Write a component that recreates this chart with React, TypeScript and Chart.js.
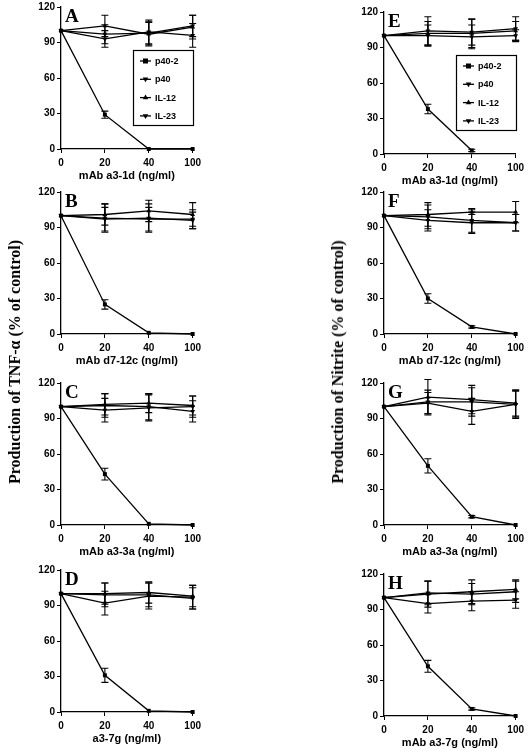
import React, { useEffect, useRef } from "react";
import { Chart, registerables } from "chart.js";
Chart.register(...registerables);

// ---------- DATA ----------
const doses = ["0", "20", "40", "100"];
const seriesNames = ["p40-2", "p40", "IL-12", "IL-23"];
const yTicks = [0, 30, 60, 90, 120];

// order of series rows: p40-2, p40, IL-12, IL-23
const panelAValues = [[100, 29, 0, 0], [100, 97, 98, 104], [100, 104, 97, 103], [100, 93, 99, 96]];
const panelAErrors = [[0, 3, 0, 0], [0, 8, 10, 9], [0, 9, 10, 10], [0, 7, 10, 10]];
const panelBValues = [[100, 25, 1, 0], [100, 97, 98, 96], [100, 101, 104, 101], [100, 98, 97, 97]];
const panelBErrors = [[0, 4, 0, 0], [0, 10, 12, 7], [0, 9, 9, 10], [0, 12, 10, 8]];
const panelCValues = [[100, 43, 1, 0], [100, 101, 100, 96], [100, 102, 103, 101], [100, 97, 99, 100]];
const panelCErrors = [[0, 5, 0, 0], [0, 10, 11, 9], [0, 9, 8, 8], [0, 10, 11, 9]];
const panelDValues = [[100, 31, 1, 0], [100, 92, 98, 97], [100, 100, 101, 98], [100, 99, 99, 96]];
const panelDErrors = [[0, 6, 0, 0], [0, 10, 11, 10], [0, 9, 9, 9], [0, 10, 10, 9]];
const panelEValues = [[100, 38, 3, null], [100, 104, 103, 106], [100, 102, 102, 104], [100, 100, 99, 100]];
const panelEErrors = [[0, 4, 1, 0], [0, 12, 11, 10], [0, 10, 12, 8], [0, 9, 10, 5]];
const panelFValues = [[100, 30, 6, 0], [100, 96, 94, 94], [100, 101, 103, 103], [100, 99, 96, 94]];
const panelFErrors = [[0, 4, 1, 0], [0, 9, 9, 7], [0, 10, 2, 9], [0, 10, 10, 7]];
const panelGValues = [[100, 50, 7, 0], [100, 104, 104, 102], [100, 108, 106, 103], [100, 103, 96, 102]];
const panelGErrors = [[0, 6, 1, 0], [0, 10, 12, 12], [0, 15, 12, 11], [0, 9, 11, 11]];
const panelHValues = [[100, 42, 6, 0], [100, 95, 97, 98], [100, 103, 105, 107], [100, 104, 103, 105]];
const panelHErrors = [[0, 5, 1, 0], [0, 8, 8, 7], [0, 11, 10, 8], [0, 10, 9, 9]];

const panelLetters = ["A", "B", "C", "D", "E", "F", "G", "H"];
const xTitles = [
  "mAb a3-1d (ng/ml)", "mAb d7-12c (ng/ml)", "mAb a3-3a (ng/ml)", "a3-7g (ng/ml)",
  "mAb a3-1d (ng/ml)", "mAb d7-12c (ng/ml)", "mAb a3-3a (ng/ml)", "mAb a3-7g (ng/ml)",
];
const yTitleLeft = "Production of TNF-α (% of control)";
const yTitleRight = "Production of Nitrite (% of control)";

// ---------- LAYOUT / STYLE ----------
const panelValues = [panelAValues, panelBValues, panelCValues, panelDValues, panelEValues, panelFValues, panelGValues, panelHValues];
const panelErrors = [panelAErrors, panelBErrors, panelCErrors, panelDErrors, panelEErrors, panelFErrors, panelGErrors, panelHErrors];
const plotPos = [
  [61, 7], [61, 192], [61, 383], [61, 570],
  [384, 12], [384, 192], [384, 383], [384, 574],
];
const PLOT_W = 134;
const PLOT_H = 142;
const PAD_L = 40;
const PAD_T = 12;
const PAD_R = 10;
const PAD_B = 38;
const CW = PAD_L + PLOT_W + PAD_R;
const CH = PAD_T + PLOT_H + PAD_B;

const pointStyles = ["rect", "triangle", "triangle", "triangle"];
const pointRotations = [0, 180, 0, 180];
const SANS = "'Liberation Sans', Arial, sans-serif";
const SERIF = "'Liberation Serif', 'Times New Roman', serif";

function drawMarker(ctx: CanvasRenderingContext2D, style: string, rot: number, x: number, y: number, r: number) {
  ctx.beginPath();
  if (style === "rect") {
    ctx.rect(x - r, y - r, 2 * r, 2 * r);
  } else {
    const s = rot === 180 ? -1 : 1;
    ctx.moveTo(x, y - s * r * 1.2);
    ctx.lineTo(x - r * 1.1, y + s * r * 0.7);
    ctx.lineTo(x + r * 1.1, y + s * r * 0.7);
    ctx.closePath();
  }
  ctx.fill();
}

const errorBarPlugin = {
  id: "errorBars",
  afterDatasetsDraw(chart: any) {
    const ctx = chart.ctx;
    const ys = chart.scales.y;
    chart.data.datasets.forEach((ds: any, i: number) => {
      const meta = chart.getDatasetMeta(i);
      const errs = ds.errors as number[];
      if (!errs) return;
      meta.data.forEach((pt: any, j: number) => {
        const v = ds.data[j];
        const e = errs[j];
        if (v == null || !e) return;
        const yTop = ys.getPixelForValue(v + e);
        const yBot = ys.getPixelForValue(v - e);
        ctx.save();
        ctx.strokeStyle = "#000";
        ctx.lineWidth = 1.1;
        ctx.beginPath();
        ctx.moveTo(pt.x, yTop);
        ctx.lineTo(pt.x, yBot);
        ctx.moveTo(pt.x - 3.5, yTop);
        ctx.lineTo(pt.x + 3.5, yTop);
        ctx.moveTo(pt.x - 3.5, yBot);
        ctx.lineTo(pt.x + 3.5, yBot);
        ctx.stroke();
        ctx.restore();
      });
    });
  },
};

const decorPlugin = {
  id: "panelDecor",
  afterDraw(chart: any, _args: any, opts: any) {
    const ctx = chart.ctx;
    const ca = chart.chartArea;
    ctx.save();
    ctx.fillStyle = "#000";
    ctx.font = `bold 19px ${SERIF}`;
    ctx.textBaseline = "alphabetic";
    ctx.textAlign = "left";
    ctx.fillText(opts.letter, ca.left + 4, ca.top + 15);
    if (opts.legend) {
      const bx = ca.left + 72;
      const by = ca.top + 43;
      const bw = 60;
      const bh = 75;
      ctx.strokeStyle = "#000";
      ctx.lineWidth = 1.2;
      ctx.strokeRect(bx + 0.5, by + 0.5, bw, bh);
      ctx.font = `bold 9px ${SANS}`;
      ctx.textBaseline = "middle";
      seriesNames.forEach((name, i) => {
        const y = by + 11 + i * 18.3;
        ctx.lineWidth = 1.3;
        ctx.beginPath();
        ctx.moveTo(bx + 7, y);
        ctx.lineTo(bx + 18, y);
        ctx.stroke();
        drawMarker(ctx, pointStyles[i], pointRotations[i], bx + 12.5, y, 2.5);
        ctx.fillText(name, bx + 22, y + 0.5);
      });
    }
    ctx.restore();
  },
};

function Panel({ idx }: { idx: number }) {
  const ref = useRef<HTMLCanvasElement | null>(null);
  useEffect(() => {
    if (!ref.current) return;
    const vals = panelValues[idx];
    const errs = panelErrors[idx];
    const datasets = seriesNames
      .map((name, i) => ({
        label: name,
        data: vals[i],
        errors: errs[i],
        borderColor: "#000",
        backgroundColor: "#000",
        borderWidth: 1.3,
        pointStyle: pointStyles[i],
        rotation: pointRotations[i],
        pointRotation: pointRotations[i],
        pointRadius: 2.8,
        pointBorderWidth: 0,
        tension: 0,
        clip: false,
        spanGaps: false,
      }))
      .reverse();
    const chart = new Chart(ref.current, {
      type: "line",
      data: { labels: doses, datasets: datasets as any },
      plugins: [errorBarPlugin, decorPlugin],
      options: {
        animation: false,
        responsive: false,
        devicePixelRatio: 1,
        layout: { padding: { left: 0, top: PAD_T, right: PAD_R, bottom: 0 } },
        plugins: {
          legend: { display: false },
          tooltip: { enabled: false },
          panelDecor: { letter: panelLetters[idx], legend: idx === 0 || idx === 4 },
        } as any,
        scales: {
          x: {
            type: "category",
            offset: false,
            grid: { display: true, drawOnChartArea: false, drawTicks: true, tickLength: 4, tickColor: "#000", tickWidth: 1, offset: false },
            border: { display: true, color: "#000", width: 1.3 },
            ticks: { color: "#000", font: { family: SANS, size: 10, weight: "bold" }, padding: 4, maxRotation: 0, autoSkip: false },
            title: { display: true, text: xTitles[idx], color: "#000", font: { family: SANS, size: 11, weight: "bold" }, padding: { top: 0, bottom: 4 } },
            afterFit: (s: any) => { s.height = PAD_B; },
          },
          y: {
            min: 0,
            max: 120,
            afterBuildTicks: (s: any) => { s.ticks = yTicks.map((v) => ({ value: v })); },
            grid: { display: true, drawOnChartArea: false, drawTicks: true, tickLength: 4, tickColor: "#000", tickWidth: 1 },
            border: { display: true, color: "#000", width: 1.3 },
            ticks: { color: "#000", font: { family: SANS, size: 10, weight: "bold" }, padding: 2 },
            afterFit: (s: any) => { s.width = PAD_L; },
          },
        },
      } as any,
    });
    return () => chart.destroy();
  }, [idx]);
  const [px, py] = plotPos[idx];
  return (
    <canvas
      ref={ref}
      width={CW}
      height={CH}
      style={{ position: "absolute", left: px - PAD_L, top: py - PAD_T, width: CW, height: CH }}
    />
  );
}

const titleStyle = (cx: number, cy: number): React.CSSProperties => ({
  position: "absolute",
  left: cx,
  top: cy,
  transform: "translate(-50%, -50%) rotate(-90deg)",
  whiteSpace: "nowrap",
  font: `bold 16px ${SERIF}`,
  color: "#000",
});

export default function App() {
  return (
    <div style={{ position: "absolute", left: 0, top: 0, width: 528, height: 753, overflow: "hidden", background: "#fff" }}>
      {panelLetters.map((_, i) => (
        <Panel key={i} idx={i} />
      ))}
      <div style={titleStyle(15, 362)}>{yTitleLeft}</div>
      <div style={titleStyle(338, 362)}>{yTitleRight}</div>
    </div>
  );
}
